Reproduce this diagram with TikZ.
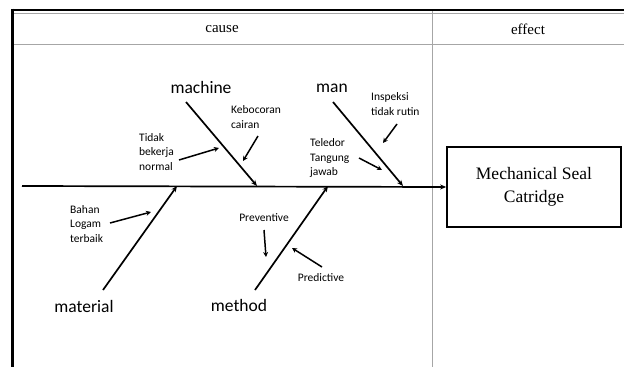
\documentclass[tikz,border=0pt]{standalone}
\usepackage{fontspec}
\setmainfont{Liberation Serif}
\newfontfamily\calibri{Carlito}
\usetikzlibrary{arrows.meta}

\begin{document}
\begin{tikzpicture}[
  x=1pt, y=-1pt,
  >={Stealth[length=6pt,width=5pt]},
  bone/.style={->, line width=1.7pt},
  cue/.style={->, line width=1.5pt, >={Stealth[length=5pt,width=5pt]}},
  cat/.style={font=\calibri\fontsize{17.5}{20}\selectfont, inner sep=0pt},
  lbl/.style={font=\calibri\fontsize{11.5}{14.7}\selectfont,
    align=left, inner sep=0pt, anchor=west},
  hdr/.style={font=\fontsize{15}{18}\selectfont, inner sep=0pt},
  rule/.style={draw=black!35, line width=0.9pt},
  effbox/.style={draw, line width=1.7pt, align=center,
    minimum width=174pt, minimum height=80pt,
    font=\fontsize{17.5}{23}\selectfont}
]
\useasboundingbox (0,0) rectangle (624,367);

% table frame
\draw[line width=2.6pt] (11,10) -- (624,10);
\draw[rule, line width=0.7pt] (14,13.5) -- (624,13.5);
\draw[line width=3pt] (12.5,8.7) -- (12.5,367);
\draw[rule] (14,44) -- (624,44);
\draw[rule] (432,11) -- (432,367);

\node[hdr] (cause)  at (222,29) {cause};
\node[hdr] (effect) at (528,29) {effect};

% head and spine
\node[effbox] (box) at (534,187) {Mechanical Seal\\Catridge};
\coordinate (tail) at (22,186);
\draw[bone] (tail) -- (box.west);

% categories
\node[cat] (machine)  at (201,87)  {machine};
\node[cat] (man)      at (332,88)  {man};
\node[cat] (material) at (84,306)  {material};
\node[cat] (method)   at (239,305) {method};

\coordinate (machA) at (186,102);  \coordinate (machB) at (257,186);
\coordinate (manA)  at (333,102);  \coordinate (manB)  at (403,186);
\coordinate (matA)  at (103,290);  \coordinate (matB)  at (177,186);
\coordinate (metA)  at (255,290);  \coordinate (metB)  at (328,186);

\draw[bone] (machA) -- (machB);
\draw[bone] (manA)  -- (manB);
\draw[bone] (matA)  -- (matB);
\draw[bone] (metA)  -- (metB);

% causes
\node[lbl] (bocor)   at (231,117) {Kebocoran\\cairan};
\node[lbl] (tidak)   at (139,152) {Tidak\\bekerja\\normal};
\node[lbl] (inspeksi) at (371,104) {Inspeksi\\tidak rutin};
\node[lbl] (teledor) at (310,158) {Teledor\\Tangung\\jawab};
\node[lbl] (bahan)   at (70,224)  {Bahan\\Logam\\terbaik};
\node[lbl, anchor=center] (prev) at (264,218) {Preventive};
\node[lbl, anchor=center] (pred) at (321,278) {Predictive};

\coordinate (bocorA) at (258,136); \coordinate (bocorB) at (243,161);
\coordinate (tidakA) at (179,160); \coordinate (tidakB) at (219,148);
\coordinate (inspA)  at (397,124); \coordinate (inspB)  at (383,143);
\coordinate (teleA)  at (359,158); \coordinate (teleB)  at (382,170);
\coordinate (bahanA) at (110,223); \coordinate (bahanB) at (151,212);
\coordinate (prevA)  at (264,230); \coordinate (prevB)  at (266,257);
\coordinate (predA)  at (322,267); \coordinate (predB)  at (292,248);

\draw[cue] (bocorA) -- (bocorB);
\draw[cue] (tidakA) -- (tidakB);
\draw[cue] (inspA)  -- (inspB);
\draw[cue] (teleA)  -- (teleB);
\draw[cue] (bahanA) -- (bahanB);
\draw[cue] (prevA)  -- (prevB);
\draw[cue] (predA)  -- (predB);

\end{tikzpicture}
\end{document}
